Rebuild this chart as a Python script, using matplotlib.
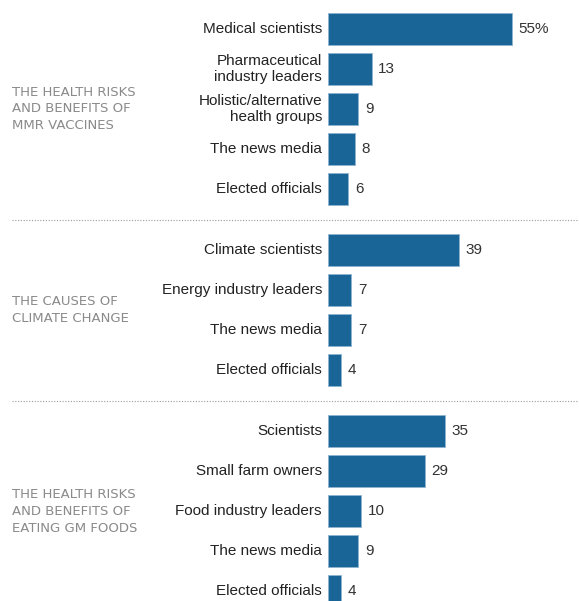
import matplotlib
matplotlib.use("Agg")
import matplotlib.pyplot as plt
from matplotlib.transforms import blended_transform_factory

group_titles = [
    "THE HEALTH RISKS\nAND BENEFITS OF\nMMR VACCINES",
    "THE CAUSES OF\nCLIMATE CHANGE",
    "THE HEALTH RISKS\nAND BENEFITS OF\nEATING GM FOODS",
]
cats_mmr = ["Medical scientists", "Pharmaceutical\nindustry leaders",
            "Holistic/alternative\nhealth groups", "The news media", "Elected officials"]
vals_mmr = [55, 13, 9, 8, 6]
cats_climate = ["Climate scientists", "Energy industry leaders", "The news media", "Elected officials"]
vals_climate = [39, 7, 7, 4]
cats_gm = ["Scientists", "Small farm owners", "Food industry leaders", "The news media", "Elected officials"]
vals_gm = [35, 29, 10, 9, 4]

groups = [(cats_mmr, vals_mmr), (cats_climate, vals_climate), (cats_gm, vals_gm)]

W, H = 579, 601
fig = plt.figure(figsize=(W / 100, H / 100), dpi=100)
ax = fig.add_axes([328 / W, 0, 1 - 328 / W, 1])

bar_color = "#1a6598"
label_font = ["Liberation Sans", "DejaVu Sans"]
GAP = 1.53
y = 0.0
seps = []
for gi, (cats, vals) in enumerate(groups):
    ys = [y + i for i in range(len(cats))]
    ax.barh(ys, vals, height=0.8, color=bar_color, edgecolor="#8fb4cf", linewidth=0.6)
    for yy, c, v, i in zip(ys, cats, vals, range(len(cats))):
        ax.text(-1.8, yy, c, ha="right", va="center", fontsize=11, color="#222222",
                family=label_font, linespacing=1.25, clip_on=False)
        lab = f"{v}%" if (gi == 0 and i == 0) else f"{v}"
        ax.text(v + 2.0, yy, lab, ha="left", va="center", fontsize=11, color="#333333",
                family=label_font, clip_on=False)
    mid = (ys[0] + ys[-1]) / 2
    trans = blended_transform_factory(fig.transFigure, ax.transData)
    ax.text(12 / W, mid, group_titles[gi], transform=trans, ha="left", va="center",
            fontsize=9.5, color="#8a8a8a", linespacing=1.38, family="DejaVu Sans", clip_on=False)
    last = ys[-1]
    y = last + GAP
    if gi < len(groups) - 1:
        seps.append((last + y) / 2)

for s in seps:
    ax.plot([12 / W, 1], [s, s], transform=blended_transform_factory(fig.transFigure, ax.transData),
            color="#9a9a9a", linestyle=(0, (1, 1.5)), linewidth=0.8, clip_on=False)

ax.set_xlim(0, 75)
ax.set_ylim(14.3, -0.725)
ax.axis("off")
fig.savefig("out.png", dpi=100)
